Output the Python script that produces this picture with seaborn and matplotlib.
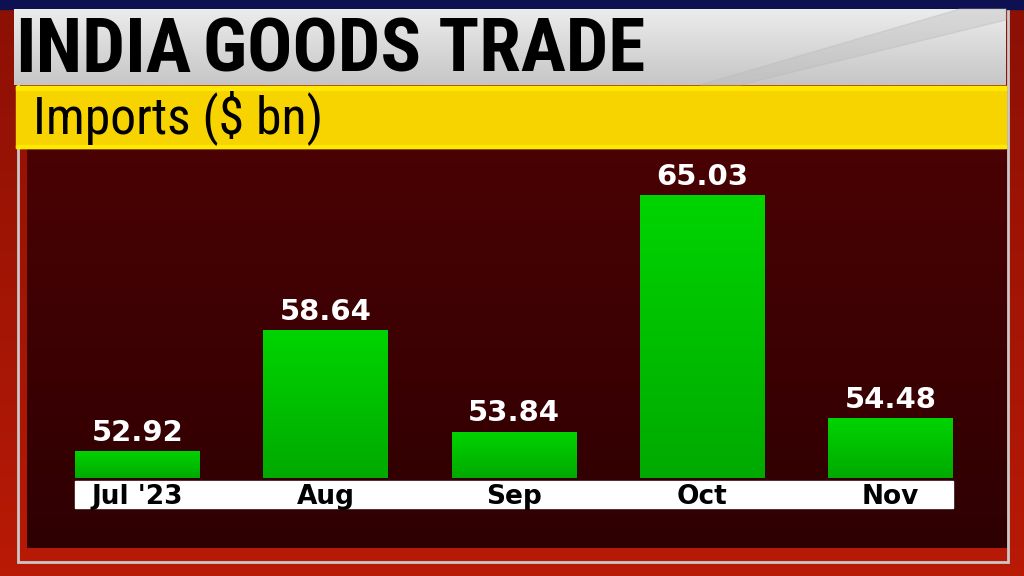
import numpy as np
import seaborn as sns
import matplotlib.pyplot as plt
from matplotlib import font_manager
from matplotlib.colors import to_rgb
from matplotlib.patches import Rectangle

# data
months = ["Jul '23", 'Aug', 'Sep', 'Oct', 'Nov']
imports = [52.92, 58.64, 53.84, 65.03, 54.48]

title_bold = 'INDIA'
title_rest = 'GOODS TRADE'
subtitle = 'Imports ($ bn)'

sns.set_style('white')

# pick a narrow face if one is installed, the broadcast graphic uses one
installed = {f.name for f in font_manager.fontManager.ttflist}
narrow_pref = ['Liberation Sans Narrow', 'DejaVu Sans Condensed', 'Roboto Condensed',
               'Open Sans Condensed', 'Noto Sans Condensed']
narrow = [n for n in narrow_pref if n in installed][:1] + ['DejaVu Sans']

fig = plt.figure(figsize=(10.24, 5.76), dpi=100, facecolor='#a81807')

# background drawn in pixel coordinates
bg = fig.add_axes([0, 0, 1, 1])
bg.set_xlim(0, 1024)
bg.set_ylim(576, 0)
bg.axis('off')


def vgrad(top, bottom, n=64):
    top = np.array(to_rgb(top))
    bottom = np.array(to_rgb(bottom))
    t = np.linspace(0, 1, n)[:, None]
    return (top * (1 - t) + bottom * t)[:, None, :]


# outer red frame and silver rule
bg.imshow(vgrad('#8c1004', '#b81a06'), extent=(0, 1024, 576, 0), aspect='auto', zorder=0)
bg.add_patch(Rectangle((18, 4), 990, 558, fill=False, ec='#c8c8c8', lw=2, zorder=1))
bg.add_patch(Rectangle((0, 0), 1024, 9, color='#0d1152', zorder=1))

# dark maroon panel
bg.imshow(vgrad('#4a0204', '#2e0002'), extent=(27, 1007, 548, 146), aspect='auto', zorder=2)

# grey header
bg.imshow(vgrad('#ececec', '#c6c6c6'), extent=(14, 1006, 85, 9), aspect='auto', zorder=3)
bg.fill([700, 960, 1006, 1006, 740], [85, 9, 9, 20, 85], color='#b8b8b8', alpha=0.35, zorder=3)

# yellow band
bg.add_patch(Rectangle((16, 86), 990, 62, color='#f7d300', zorder=3))
bg.add_patch(Rectangle((16, 86), 990, 4, color='#ffe900', zorder=3))
bg.add_patch(Rectangle((16, 145), 990, 3, color='#ffe900', zorder=3))

t1 = bg.text(15, 51, title_bold, fontsize=47, fontweight='heavy', family=narrow,
             va='center', ha='left', color='black', zorder=4)
t2 = bg.text(203, 51, title_rest, fontsize=47, fontweight='semibold', family=narrow,
             va='center', ha='left', color='black', zorder=4)
t3 = bg.text(33, 118, subtitle, fontsize=30, fontweight='normal', family=narrow,
             va='center', ha='left', color='black', zorder=4)

# white strip for month labels
bg.add_patch(Rectangle((75, 481), 878, 27, color='white', zorder=4))

# bar chart
ax = fig.add_axes([75 / 1024, 1 - 478 / 576, 878 / 1024, 328 / 576])
ax.patch.set_alpha(0)
sns.barplot(x=months, y=imports, ax=ax, width=0.664, color='#00c800',
            saturation=1, edgecolor='none')

ymin, ymax = 51.64, 67.16
grad = vgrad('#00d400', '#00aa00')
for bar in ax.patches:
    x0 = bar.get_x()
    top = bar.get_y() + bar.get_height()
    im = ax.imshow(grad, extent=(x0, x0 + bar.get_width(), ymin, top),
                   aspect='auto', zorder=2)
    im.set_clip_path(bar)

for i, v in enumerate(imports):
    ax.text(i, v + 0.2, f'{v:.2f}', ha='center', va='bottom', color='white',
            fontsize=21, fontweight='bold', family='DejaVu Sans')

ax.set_xlim(-0.332, 4.332)
ax.set_ylim(ymin, ymax)
ax.set_xticks(range(len(months)))
ax.set_xticklabels(months, fontsize=19, fontweight='bold', color='black')
ax.tick_params(axis='x', length=0, pad=4)
ax.set_yticks([])
ax.set_xlabel('')
ax.set_ylabel('')
sns.despine(ax=ax, left=True, bottom=True)

# fit the heading texts to the widths they take in the graphic
fig.canvas.draw()
r = fig.canvas.get_renderer()
for t, target in [(t1, 176), (t2, 442), (t3, 290)]:
    w = t.get_window_extent(r).width
    t.set_fontsize(t.get_fontsize() * target / w)

fig.savefig('out.png', dpi=100, facecolor=fig.get_facecolor())
